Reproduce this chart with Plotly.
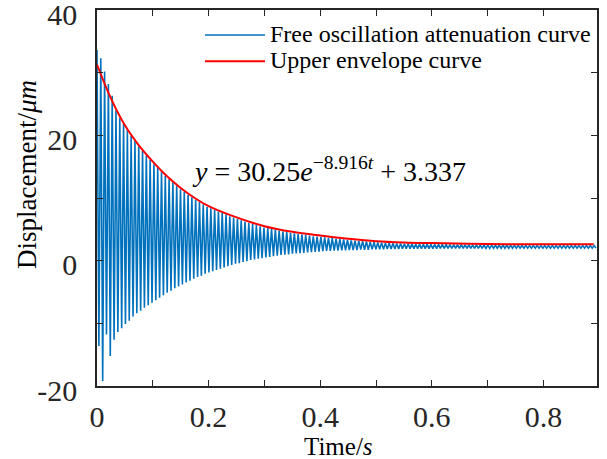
import numpy as np
import plotly.graph_objects as go

# ---------------- data ----------------
period = 0.0068  # s, spacing between successive peaks of the oscillation

peaks = [
    33.6, 32.3, 30.2, 28.2, 26.3, 24.0, 22.8, 21.8, 20.8, 19.9,
    19.1, 18.2, 17.5, 16.8, 16.1, 15.4, 14.8, 14.2, 13.5, 13.0,
    12.5, 12.0, 11.4, 11.0, 10.5, 10.1, 9.7, 9.4, 9.0, 8.6,
    8.35, 8.1, 7.85, 7.6, 7.4, 7.1, 6.9, 6.65, 6.45, 6.25,
    6.05, 5.9, 5.7, 5.5, 5.3, 5.2, 5.1, 4.95, 4.8, 4.7,
    4.6, 4.45, 4.35, 4.25, 4.15, 4.1, 4.0, 3.9, 3.85, 3.8,
    3.7, 3.65, 3.6, 3.5, 3.45, 3.4, 3.3, 3.25, 3.2, 3.15,
    3.1, 3.05, 3.0, 2.95, 2.9, 2.85, 2.8, 2.8, 2.77, 2.75,
    2.73, 2.7, 2.7, 2.68, 2.67, 2.66, 2.65, 2.64, 2.63, 2.62,
    2.61, 2.6, 2.59, 2.58, 2.57, 2.56, 2.55, 2.54, 2.53, 2.52,
    2.51, 2.5, 2.49, 2.48, 2.47, 2.46, 2.46, 2.45, 2.45, 2.44,
    2.44, 2.43, 2.43, 2.42, 2.42, 2.42, 2.41, 2.41, 2.41, 2.4,
    2.4, 2.4, 2.4, 2.4, 2.4, 2.4, 2.4, 2.4, 2.4, 2.4,
    2.4, 2.4,
]

troughs = [
    -13.6, -19.2, -11.8, -15.2, -12.6, -11.4, -10.8, -10.1, -9.6, -8.9,
    -8.4, -8.0, -7.5, -7.1, -6.7, -6.3, -5.9, -5.5, -5.1, -4.8,
    -4.4, -4.1, -3.8, -3.5, -3.2, -2.9, -2.6, -2.4, -2.1, -1.9,
    -1.7, -1.5, -1.3, -1.1, -0.9, -0.7, -0.5, -0.4, -0.2, -0.1,
    0.1, 0.2, 0.3, 0.4, 0.5, 0.6, 0.7, 0.8, 0.9, 0.95,
    1.0, 1.1, 1.15, 1.2, 1.25, 1.3, 1.35, 1.4, 1.45, 1.5,
    1.55, 1.55, 1.6, 1.6, 1.65, 1.65, 1.7, 1.7, 1.7, 1.75,
    1.75, 1.75, 1.8, 1.8, 1.8, 1.8, 1.85, 1.85, 1.85, 1.85,
    1.9, 1.9, 1.9, 1.9, 1.9, 1.9, 1.92, 1.92, 1.92, 1.92,
    1.94, 1.94, 1.94, 1.94, 1.95, 1.95, 1.95, 1.95, 1.96, 1.96,
    1.96, 1.97, 1.97, 1.97, 1.98, 1.98, 1.98, 1.98, 1.99, 1.99,
    1.99, 2.0, 2.0, 2.0, 2.0, 2.0, 2.0, 2.0, 2.0, 2.0,
    2.0, 2.0, 2.0, 2.0, 2.0, 2.0, 2.0, 2.0, 2.0, 2.0,
    2.0, 2.0,
]

envelope_t = [0, 0.025, 0.05, 0.075, 0.1, 0.125, 0.15, 0.175, 0.2, 0.25,
              0.3, 0.35, 0.4, 0.45, 0.5, 0.55, 0.6, 0.7, 0.8, 0.89]
envelope_v = [31.3, 25.9, 21.6, 18.4, 15.8, 13.5, 11.6, 10.0, 8.7, 6.9,
              5.5, 4.6, 4.0, 3.5, 3.1, 2.9, 2.8, 2.65, 2.6, 2.6]

x_tickvals = [0, 0.2, 0.4, 0.6, 0.8]
x_ticktext = ["0", "0.2", "0.4", "0.6", "0.8"]
x_minor_vals = [0.1, 0.3, 0.5, 0.7]
y_tickvals = [-20, 0, 20, 40]
y_ticktext = ["-20", "0", "20", "40"]
y_minor_vals = [-10, 10, 30]

series_names = ["Free oscillation attenuation curve", "Upper envelope curve"]

# ---------------- build the oscillation trace ----------------
n = len(peaks)
t_peak = np.arange(n) * period
t_trough = t_peak + period / 2
osc_t = np.empty(2 * n)
osc_v = np.empty(2 * n)
osc_t[0::2] = t_peak
osc_t[1::2] = t_trough
osc_v[0::2] = peaks
osc_v[1::2] = troughs

FONT = "Liberation Serif, Times New Roman, serif"
AX = "#262626"

fig = go.Figure()
fig.add_trace(go.Scatter(
    x=osc_t, y=osc_v, mode="lines",
    name='<span style="font-size:24px">' + series_names[0] + '</span>',
    line=dict(color="#0072BD", width=1.6)))
fig.add_trace(go.Scatter(
    x=envelope_t, y=envelope_v, mode="lines",
    name='<span style="font-size:24px">' + series_names[1] + '</span>',
    line=dict(color="#FF0000", width=2, shape="spline")))

axis_common = dict(showline=True, linecolor=AX, linewidth=1.5, mirror="ticks",
                   ticks="inside", ticklen=6, tickcolor=AX, tickwidth=1.2,
                   showgrid=False, zeroline=False, ticklabeloverflow="allow",
                   automargin=False,
                   tickfont=dict(family=FONT, size=30, color=AX))

fig.update_xaxes(range=[0, 0.896], tickmode="array", tickvals=x_tickvals,
                 ticktext=x_ticktext, ticklabelstandoff=3,
                 minor=dict(tickmode="array", tickvals=x_minor_vals, ticks="inside",
                            ticklen=6, tickcolor=AX, tickwidth=1.2, showgrid=False),
                 **axis_common)
fig.update_yaxes(range=[-20, 40], tickmode="array", tickvals=y_tickvals,
                 ticktext=y_ticktext, ticklabelstandoff=12, ticklabelshift=4,
                 minor=dict(tickmode="array", tickvals=y_minor_vals, ticks="inside",
                            ticklen=6, tickcolor=AX, tickwidth=1.2, showgrid=False),
                 **axis_common)

fig.add_annotation(xref="paper", yref="paper", x=0.482, y=-0.16,
                   text="Time/<i>s</i>", showarrow=False,
                   xanchor="center", yanchor="middle",
                   font=dict(family=FONT, size=25, color="black"))
fig.add_annotation(xref="paper", yref="paper", x=-0.14, y=0.561,
                   text="Displacement/<i>μm</i>", showarrow=False, textangle=-90,
                   xanchor="center", yanchor="middle",
                   font=dict(family=FONT, size=27, color="black"))
fig.add_annotation(xref="paper", yref="paper", x=0.186, y=0.575,
                   text="<i>y</i> = 30.25<i>e</i><sup>−8.916<i>t</i></sup> + 3.337",
                   showarrow=False, xanchor="left", yanchor="middle",
                   font=dict(family=FONT, size=28, color="black"))

fig.update_layout(
    width=607, height=459,
    margin=dict(l=97, r=10, t=10, b=73, autoexpand=False),
    plot_bgcolor="white", paper_bgcolor="white",
    showlegend=True,
    legend=dict(x=0.206, y=0.982, xanchor="left", yanchor="top",
                bgcolor="rgba(0,0,0,0)", borderwidth=0, itemwidth=60,
                font=dict(family=FONT, size=18, color="black"),
                tracegroupgap=0),
)

fig.write_html("out.html")
